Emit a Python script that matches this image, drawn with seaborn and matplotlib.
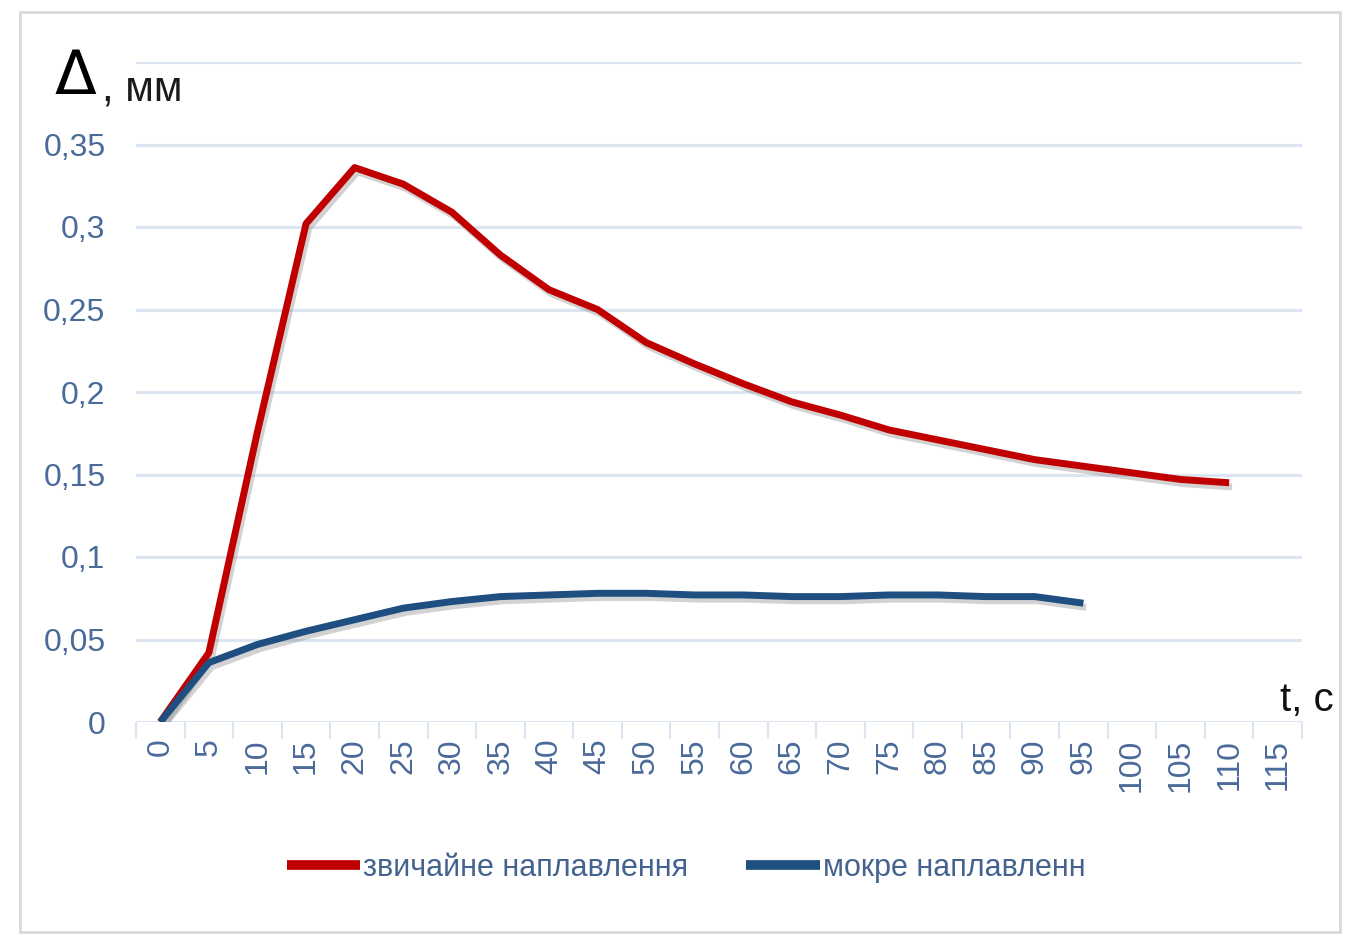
import numpy as np
import pandas as pd
import matplotlib
matplotlib.use("Agg")
import matplotlib.pyplot as plt
import matplotlib.patheffects as pe
from matplotlib.patches import Rectangle
import seaborn as sns

# ---- data ----
t_labels = [str(v) for v in range(0, 120, 5)]  # category axis 0..115
t_regular = [0, 5, 10, 15, 20, 25, 30, 35, 40, 45, 50, 55, 60, 65, 70, 75,
             80, 85, 90, 95, 100, 105, 110]
d_regular = [0.0, 0.042, 0.176, 0.302, 0.336, 0.326, 0.309, 0.283, 0.262,
             0.250, 0.230, 0.217, 0.205, 0.194, 0.186, 0.177, 0.171, 0.165,
             0.159, 0.155, 0.151, 0.147, 0.145]
t_wet = [0, 5, 10, 15, 20, 25, 30, 35, 40, 45, 50, 55, 60, 65, 70, 75, 80,
         85, 90, 95]
d_wet = [0.0, 0.036, 0.047, 0.055, 0.062, 0.069, 0.073, 0.076, 0.077, 0.078,
         0.078, 0.077, 0.077, 0.076, 0.076, 0.077, 0.077, 0.076, 0.076, 0.072]
series_names = ["звичайне наплавлення", "мокре наплавленн"]
y_ticks = [0, 0.05, 0.1, 0.15, 0.2, 0.25, 0.3, 0.35, 0.4]
y_ticklabels = ["0", "0,05", "0,1", "0,15", "0,2", "0,25", "0,3", "0,35", ""]

df = pd.concat([
    pd.DataFrame({"pos": [t_labels.index(str(t)) for t in t_regular],
                  "d": d_regular, "series": series_names[0]}),
    pd.DataFrame({"pos": [t_labels.index(str(t)) for t in t_wet],
                  "d": d_wet, "series": series_names[1]}),
], ignore_index=True)

sns.set_theme(style="white")
plt.rcParams["font.family"] = ["Liberation Sans", "DejaVu Sans"]

W, H = 1345, 940
fig = plt.figure(figsize=(W / 100, H / 100), dpi=100)
ax = fig.add_axes([136 / W, 1 - 722 / H, (1302 - 136) / W, (722 - 62) / H])

palette = {series_names[0]: "#c00000", series_names[1]: "#1f4e80"}
sns.lineplot(data=df, x="pos", y="d", hue="series", palette=palette,
             linewidth=5, ax=ax, sort=True, legend=True)
for ln in ax.get_lines():
    ln.set_path_effects([pe.SimpleLineShadow(offset=(2, -3), shadow_color="gray", alpha=0.35),
                         pe.Normal()])
    ln.set_solid_joinstyle("round")
    ln.set_solid_capstyle("butt")

ax.set_xlim(-0.5, len(t_labels) - 0.5)
ax.set_ylim(0, 0.4)
ax.set_xticks(range(len(t_labels)))
ax.set_xticklabels(t_labels, rotation=90, fontsize=23, color="#4a6a9a")
ax.set_xticks(np.arange(-0.5, len(t_labels), 1), minor=True)
ax.tick_params(axis="x", which="major", length=0, pad=12)
ax.tick_params(axis="x", which="minor", length=12, width=1.5, color="#dce6f2",
               direction="out", bottom=True)
ax.set_yticks(y_ticks)
ax.set_yticklabels(y_ticklabels, fontsize=23, color="#4a6a9a")
ax.tick_params(axis="y", length=0, pad=22)
ax.grid(axis="y", color="#dce6f2", linewidth=2.2)
ax.grid(axis="x", visible=False)
for s in ax.spines.values():
    s.set_visible(False)
ax.set_xlabel("")
ax.set_ylabel("")

leg = ax.legend(loc="center", bbox_to_anchor=(0.51, 1 - 868 / H),
                bbox_transform=fig.transFigure, ncol=2, frameon=False,
                fontsize=22, handlelength=2.4, handletextpad=0.1,
                columnspacing=1.9)
for txt in leg.get_texts():
    txt.set_color("#44638f")
for h in leg.get_lines():
    h.set_linewidth(7)
    h.set_path_effects([])

fig.text(55 / W, 1 - 78 / H, "Δ", fontsize=44, color="black",
         ha="left", va="center", family=["DejaVu Sans"])
fig.text(102 / W, 1 - 90 / H, ", мм", fontsize=30, color="#1a1a1a",
         ha="left", va="center")
fig.text(1280 / W, 1 - 700 / H, "t, c", fontsize=29, color="#111111",
         ha="left", va="center")

fig.patches.append(Rectangle((20 / W, 1 - 932 / H), 1320 / W, 920 / H,
                             transform=fig.transFigure, fill=False,
                             edgecolor="#d9d9d9", linewidth=2))

fig.savefig("out.png", dpi=100, facecolor="white")
